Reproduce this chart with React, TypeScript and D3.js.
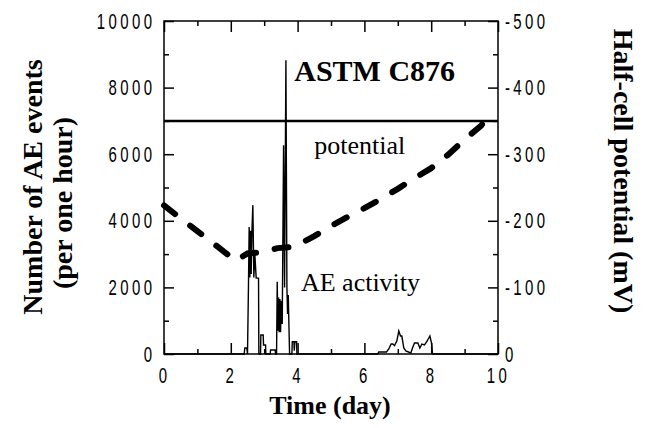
import { useEffect, useRef } from 'react';
import * as d3 from 'd3';

const dayTicks = [0, 2, 4, 6, 8, 10];
const dayMinorTicks = [1, 3, 5, 7, 9];
const countTicks = [0, 2000, 4000, 6000, 8000, 10000];
const countMinorTicks = [1000, 3000, 5000, 7000, 9000];
const potentialTicks = [0, -100, -200, -300, -400, -500];
const potentialMinorTicks = [-50, -150, -250, -350, -450];

// AE events per one hour
const aeDays = [
  0, 2.40, 2.42, 2.48, 2.50, 2.53, 2.55, 2.57, 2.59, 2.61, 2.63, 2.66, 2.69, 2.72, 2.76, 2.78, 2.83, 2.84,
  2.89, 2.90, 2.97, 2.98, 3.04, 3.05, 3.18, 3.19, 3.33, 3.34,
  3.37, 3.39, 3.41, 3.43, 3.45, 3.47, 3.49, 3.51, 3.54, 3.58, 3.61, 3.65, 3.68, 3.70, 3.72, 3.76,
  3.83, 3.84, 3.89, 3.90, 3.92, 3.97, 3.98,
  6.40, 6.43, 6.66, 6.73, 6.80, 6.85, 6.90, 6.97, 7.03, 7.08, 7.12, 7.18, 7.24, 7.39, 7.44, 7.50,
  7.60, 7.66, 7.72, 7.80, 7.88, 7.96, 8.01, 8.04, 10,
];
const aeCounts = [
  0, 0, 180, 180, 0, 2130, 3810, 2300, 3700, 2400, 3600, 4470, 2300, 3000, 2280, 2280, 2280, 0,
  0, 570, 570, 270, 270, 0, 0, 120, 120, 0,
  0, 2170, 700, 1700, 650, 1650, 650, 1600, 900, 6270, 2000, 8820, 2000, 1200, 1770, 0,
  0, 370, 370, 100, 370, 370, 0,
  0, 60, 60, 150, 300, 300, 250, 390, 690, 540, 540, 180, 90, 30, 180, 330,
  330, 180, 300, 270, 390, 540, 330, 0, 0,
];

// half-cell potential (mV)
const potentialDays = [0, 2.15, 2.5, 3.0, 3.4, 3.9, 4.5, 5.0, 5.5, 6.0, 6.5, 7.0, 7.5, 8.0, 8.5, 9.0, 9.5, 9.75];
const potentialValues = [-223, -140, -151, -153, -159, -161, -177, -192, -206, -219, -233, -248, -264, -279, -299, -322, -343, -362];

const astmLimit = -350;

function App() {
  const svgRef = useRef<SVGSVGElement>(null);

  useEffect(() => {
    const svg = d3.select(svgRef.current);
    svg.selectAll('*').remove();

    const left = 164, right = 498, top = 21, bottom = 354;
    const x = d3.scaleLinear().domain([0, 10]).range([left, right]);
    const yCount = d3.scaleLinear().domain([0, 10000]).range([bottom, top]);
    const yPot = d3.scaleLinear().domain([0, -500]).range([bottom, top]);

    const sx = 0.68;
    const numFont = 'Liberation Sans, Arial, sans-serif';
    const serif = 'Liberation Serif, Times New Roman, serif';

    const styleAxis = (g: any, labelX: number | null) => {
      g.select('.domain').remove();
      g.selectAll('line').attr('stroke', '#000').attr('stroke-width', 1.5);
      const t = g.selectAll('text')
        .attr('fill', '#000')
        .attr('font-family', numFont)
        .attr('font-size', 22)
        .attr('letter-spacing', 5)
        .attr('transform', `scale(${sx},1)`);
      if (labelX !== null) t.attr('x', labelX / sx);
    };

    // minor ticks
    svg.append('g').attr('transform', `translate(${left},0)`)
      .call(d3.axisLeft(yCount).tickValues(countMinorTicks).tickSize(-5).tickFormat(() => ''))
      .call((g: any) => styleAxis(g, null));
    svg.append('g').attr('transform', `translate(${right},0)`)
      .call(d3.axisRight(yPot).tickValues(potentialMinorTicks).tickSize(-5).tickFormat(() => ''))
      .call((g: any) => styleAxis(g, null));
    svg.append('g').attr('transform', `translate(0,${bottom})`)
      .call(d3.axisBottom(x).tickValues(dayMinorTicks).tickSize(-5).tickFormat(() => ''))
      .call((g: any) => styleAxis(g, null));
    svg.append('g').attr('transform', `translate(0,${top})`)
      .call(d3.axisTop(x).tickValues(dayMinorTicks).tickSize(-5).tickFormat(() => ''))
      .call((g: any) => styleAxis(g, null));

    // major ticks
    svg.append('g').attr('transform', `translate(${left},0)`)
      .call(d3.axisLeft(yCount).tickValues(countTicks).tickSize(-10).tickFormat((d: any) => String(d)))
      .call((g: any) => styleAxis(g, -8.6));
    svg.append('g').attr('transform', `translate(${right},0)`)
      .call(d3.axisRight(yPot).tickValues(potentialTicks).tickSize(-10).tickFormat((d: any) => String(d)))
      .call((g: any) => styleAxis(g, 7));
    svg.append('g').attr('transform', `translate(0,${bottom})`)
      .call(d3.axisBottom(x).tickValues(dayTicks).tickSize(-11).tickPadding(13).tickFormat((d: any) => String(d)))
      .call((g: any) => styleAxis(g, null));
    svg.append('g').attr('transform', `translate(0,${top})`)
      .call(d3.axisTop(x).tickValues(dayTicks).tickSize(-11).tickFormat(() => ''))
      .call((g: any) => styleAxis(g, null));

    // frame
    svg.append('rect')
      .attr('x', left).attr('y', top)
      .attr('width', right - left).attr('height', bottom - top)
      .attr('fill', 'none').attr('stroke', '#000').attr('stroke-width', 1.5);

    // ASTM C876 limit
    svg.append('line')
      .attr('x1', x(0)).attr('x2', x(10))
      .attr('y1', yPot(astmLimit)).attr('y2', yPot(astmLimit))
      .attr('stroke', '#000').attr('stroke-width', 2.5);

    // AE activity
    const aeLine = d3.line<number>()
      .x((d, i) => x(aeDays[i]))
      .y(d => yCount(d));
    svg.append('path')
      .attr('d', aeLine(aeCounts))
      .attr('fill', 'none').attr('stroke', '#000').attr('stroke-width', 1.4);

    // potential
    const potLine = d3.line<number>()
      .x((d, i) => x(potentialDays[i]))
      .y(d => yPot(d));
    svg.append('path')
      .attr('d', potLine(potentialValues))
      .attr('fill', 'none').attr('stroke', '#000').attr('stroke-width', 6)
      .attr('stroke-dasharray', '14,19').attr('stroke-linecap', 'round');

    // annotations
    svg.append('text')
      .attr('x', x(3.9)).attr('y', yCount(8200))
      .attr('font-family', serif).attr('font-size', 30).attr('font-weight', 'bold')
      .text('ASTM C876');
    svg.append('text')
      .attr('x', x(4.5)).attr('y', yCount(6000))
      .attr('font-family', serif).attr('font-size', 26)
      .text('potential');
    svg.append('text')
      .attr('x', x(4.1)).attr('y', yCount(1900))
      .attr('font-family', serif).attr('font-size', 26)
      .text('AE activity');

    // axis titles
    svg.append('text')
      .attr('x', 330).attr('y', 414)
      .attr('text-anchor', 'middle')
      .attr('font-family', serif).attr('font-size', 26).attr('font-weight', 'bold')
      .text('Time (day)');
    svg.append('text')
      .attr('transform', 'translate(42,187) rotate(-90)')
      .attr('text-anchor', 'middle')
      .attr('font-family', serif).attr('font-size', 28).attr('font-weight', 'bold')
      .text('Number of AE events');
    svg.append('text')
      .attr('transform', 'translate(72,203) rotate(-90)')
      .attr('text-anchor', 'middle')
      .attr('font-family', serif).attr('font-size', 28).attr('font-weight', 'bold')
      .text('(per one hour)');
    svg.append('text')
      .attr('transform', 'translate(614,171) rotate(90)')
      .attr('text-anchor', 'middle')
      .attr('font-family', serif).attr('font-size', 28).attr('font-weight', 'bold')
      .text('Half-cell potential (mV)');
  }, []);

  return (
    <svg
      ref={svgRef}
      width={650}
      height={428}
      style={{ position: 'absolute', left: 0, top: 0, background: '#fff' }}
    />
  );
}

export default App;
